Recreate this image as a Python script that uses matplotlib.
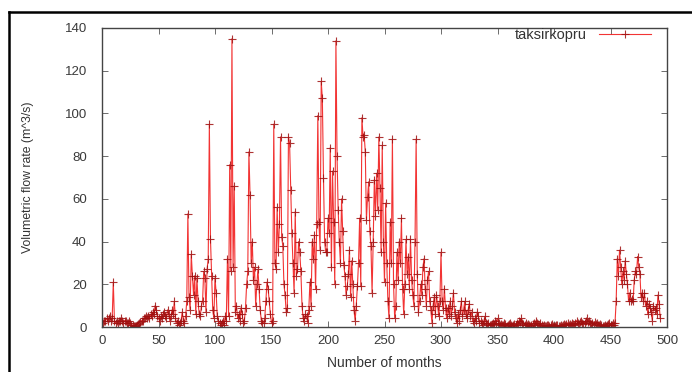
"""Monthly volumetric flow rate at Taksirkopru, gnuplot-style line + crosses."""

import matplotlib
matplotlib.use("Agg")
import matplotlib.pyplot as plt
from matplotlib.lines import Line2D
import numpy as np

SERIES_NAME = "taksirkopru"
X_LABEL = "Number of months"
Y_LABEL = "Volumetric flow rate (m^3/s)"
X_TICKS = [0, 50, 100, 150, 200, 250, 300, 350, 400, 450, 500]
Y_TICKS = [0, 20, 40, 60, 80, 100, 120, 140]

# monthly flow values, ten months per row (month 1 .. 494)
flow_001_100 = [
    2, 3, 3, 4, 3, 4, 5, 3, 4, 21,
    3, 2, 3, 2, 3, 3, 4, 3, 2, 3,
    3, 2, 2, 3, 2, 1, 1, 0.5, 0.3, 0.5,
    1, 1.5, 2, 2.5, 3, 3, 4, 4, 5, 4,
    5, 4, 6, 5, 7, 6, 10, 8, 5, 4,
    3, 5, 4, 6, 7, 5, 4, 8, 6, 3,
    5, 8, 6, 12, 4, 2, 3, 1, 2, 3,
    7, 3, 2, 5, 12, 53, 14, 8, 34, 24,
    15, 24, 6, 23, 12, 6, 5, 10, 12, 26,
    23, 7, 27, 32, 95, 41, 24, 8, 4, 23,
]
flow_101_200 = [
    16, 5, 3, 2, 1, 2, 3, 1, 5, 3,
    32, 5, 76, 26, 135, 28, 66, 7, 10, 4,
    6, 3, 9, 6, 2, 3, 9, 20, 26, 82,
    62, 30, 40, 22, 28, 10, 20, 27, 18, 8,
    3, 2, 2, 4, 12, 21, 18, 12, 6, 2,
    3, 95, 30, 27, 56, 35, 48, 89, 42, 38,
    20, 15, 7, 9, 89, 86, 64, 44, 30, 16,
    54, 24, 27, 40, 35, 26, 10, 4, 3, 6,
    5, 2, 8, 21, 10, 40, 32, 43, 18, 48,
    99, 49, 36, 115, 107, 70, 40, 35, 35, 51,
]
flow_201_300 = [
    44, 84, 28, 73, 49, 20, 134, 80, 55, 40,
    30, 60, 45, 29, 24, 15, 19, 25, 36, 14,
    31, 20, 8, 3, 10, 19, 30, 51, 19, 98,
    89, 90, 82, 50, 61, 68, 45, 38, 16, 40,
    69, 52, 72, 55, 89, 65, 35, 85, 40, 21,
    58, 30, 12, 4, 49, 30, 88, 20, 4, 10,
    35, 22, 40, 30, 51, 18, 6, 20, 41, 25,
    33, 18, 41, 22, 15, 10, 40, 88, 25, 7,
    12, 20, 15, 28, 32, 18, 10, 22, 26, 12,
    8, 2, 10, 14, 6, 15, 10, 5, 12, 35,
]
flow_301_400 = [
    12, 8, 18, 9, 4, 9, 6, 12, 5, 10,
    16, 7, 4, 2, 6, 3, 8, 12, 5, 8,
    12, 6, 4, 8, 11, 5, 7, 3, 2, 4,
    3, 7, 5, 2, 3, 2, 1, 3, 5, 2,
    1.5, 2, 1, 0.8, 1.2, 2, 1.5, 3, 2, 4,
    2, 1, 1.5, 0.8, 1, 2, 1.2, 0.5, 1, 1.5,
    2, 1, 0.5, 1, 1.5, 0.8, 2, 1, 3, 2.5,
    4, 2, 1.5, 1, 2, 0.8, 1.5, 1, 0.5, 1,
    1.5, 2, 1, 3, 2, 1.5, 1, 2, 0.8, 0.5,
    1, 0.5, 0.3, 1, 0.8, 0.5, 1, 1.5, 0.5, 0.3,
]
flow_401_494 = [
    0.5, 1, 0.8, 0.3, 0.5, 1, 0.5, 0.8, 1.5, 1,
    1.2, 2, 1, 1.5, 0.8, 2, 1.5, 1, 2, 3,
    2, 1.5, 2.5, 3, 2, 1.5, 2, 3, 4, 2.5,
    3, 2, 1.5, 2, 1, 2.5, 1.5, 2, 1, 0.8,
    1.5, 1, 0.5, 0.3, 0.8, 0.5, 1, 1.5, 2, 1,
    1, 2, 1, 2, 12, 32, 24, 36, 28, 20,
    26, 22, 31, 25, 20, 12, 16, 12, 13, 12,
    22, 26, 25, 33, 28, 25, 14, 16, 12, 16,
    10, 12, 6, 11, 9, 7, 3, 10, 8, 9,
    6, 15, 11, 4,
]

flow = flow_001_100 + flow_101_200 + flow_201_300 + flow_301_400 + flow_401_494
months = np.arange(1, len(flow) + 1)

plt.rcParams["font.family"] = ["Liberation Sans", "DejaVu Sans"]

fig = plt.figure(figsize=(6.92, 3.72), dpi=100)
ax = fig.add_axes([102 / 692, 1 - 327 / 372, 565 / 692, 299 / 372])

ax.plot(months, flow, color="#f01010", lw=0.8, alpha=0.85,
        marker="+", ms=5.5, mew=0.8, mec="#a01010", label=SERIES_NAME)

ax.set_xlim(0, 500)
ax.set_ylim(0, 140)
ax.set_xticks(X_TICKS)
ax.set_yticks(Y_TICKS)
ax.tick_params(direction="in", length=4, width=0.6, colors="#555555",
               labelcolor="#3a3a3a", labelsize=9.5, top=True, right=True)
ax.tick_params(axis="y", pad=11)
ax.tick_params(axis="x", pad=6)
for sp in ax.spines.values():
    sp.set_color("#444444")
    sp.set_linewidth(1.0)

ax.set_xlabel(X_LABEL, fontsize=10, color="#333333", labelpad=6)
ax.set_ylabel(Y_LABEL, fontsize=8.8, color="#333333", labelpad=22)

leg = ax.legend(loc="upper right", frameon=False, markerfirst=False,
                fontsize=10.5, handlelength=3.6, borderaxespad=0.1,
                handletextpad=0.8, bbox_to_anchor=(0.985, 1.025))
for t in leg.get_texts():
    t.set_color("#333333")

# black frame at the top and left of the picture
fig.add_artist(Line2D([9 / 692, 1], [1 - 12 / 372, 1 - 12 / 372], color="black", lw=1.8))
fig.add_artist(Line2D([9 / 692, 9 / 692], [0, 1 - 12 / 372], color="black", lw=1.8))

fig.savefig("out.png", dpi=100)
